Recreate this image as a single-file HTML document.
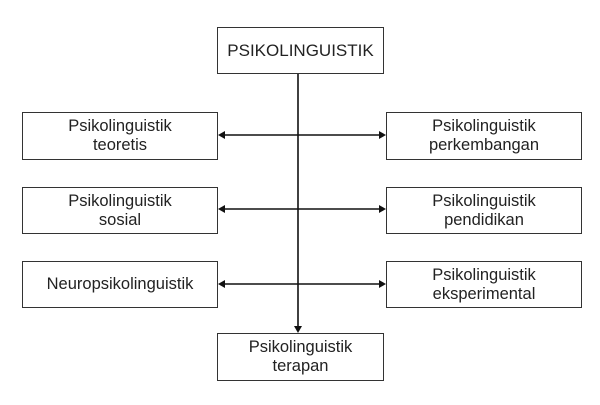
<!DOCTYPE html>
<html><head><style>
body{margin:0;width:600px;height:405px;background:#fff;overflow:hidden;position:relative;font-family:"Liberation Sans",sans-serif;}
.b{position:absolute;border:1.5px solid #333;box-sizing:border-box;display:flex;align-items:center;justify-content:center;text-align:center;font-size:16.5px;line-height:19px;color:#222;}
</style></head><body>
<div class="b" style="left:217px;top:27px;width:167px;height:47px;font-size:17px;">PSIKOLINGUISTIK</div>
<div class="b" style="left:22px;top:112px;width:196px;height:48px;">Psikolinguistik<br>teoretis</div>
<div class="b" style="left:22px;top:187px;width:196px;height:47px;">Psikolinguistik<br>sosial</div>
<div class="b" style="left:22px;top:261px;width:196px;height:47px;">Neuropsikolinguistik</div>
<div class="b" style="left:386px;top:112px;width:196px;height:48px;">Psikolinguistik<br>perkembangan</div>
<div class="b" style="left:386px;top:187px;width:196px;height:47px;">Psikolinguistik<br>pendidikan</div>
<div class="b" style="left:386px;top:261px;width:196px;height:47px;">Psikolinguistik<br>eksperimental</div>
<div class="b" style="left:217px;top:333px;width:167px;height:48px;">Psikolinguistik<br>terapan</div>
<svg width="600" height="405" style="position:absolute;left:0;top:0" viewBox="0 0 600 405">
<g stroke="#111" stroke-width="1.6" fill="#111">
<line x1="298" y1="74" x2="298" y2="328"/>
<polygon points="294,326 302,326 298,333" stroke="none"/>
<line x1="222" y1="135" x2="382" y2="135"/>
<line x1="222" y1="209" x2="382" y2="209"/>
<line x1="222" y1="284" x2="382" y2="284"/>
<polygon points="218,135 225,131 225,139" stroke="none"/>
<polygon points="386,135 379,131 379,139" stroke="none"/>
<polygon points="218,209 225,205 225,213" stroke="none"/>
<polygon points="386,209 379,205 379,213" stroke="none"/>
<polygon points="218,284 225,280 225,288" stroke="none"/>
<polygon points="386,284 379,280 379,288" stroke="none"/>
</g></svg>
</body></html>
